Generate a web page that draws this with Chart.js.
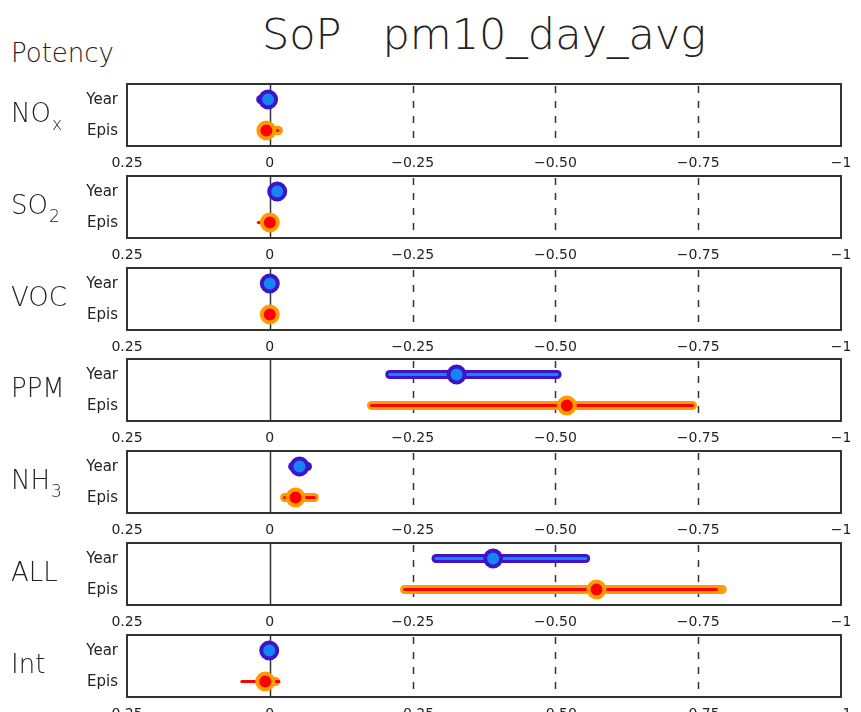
<!DOCTYPE html>
<html>
<head>
<meta charset="utf-8">
<script src="https://cdn.jsdelivr.net/npm/chart.js@4.4.1/dist/chart.umd.min.js"></script>
<style>
  body { margin:0; background:#fff; font-family:"DejaVu Sans", sans-serif; color:#222; }
  #wrap { position:relative; width:861px; height:712px; overflow:hidden; }
  #wrap canvas { position:absolute; left:0; }
  .title { position:absolute; left:127px; width:714px; top:9px; text-align:center; font-size:43px; font-weight:300; white-space:pre; }
  .potency { position:absolute; left:11px; top:38px; font-size:26px; font-weight:300; }
  .plab { position:absolute; left:11px; font-size:26px; font-weight:300; line-height:30px; }
  .plab sub { font-size:17px; vertical-align:-8px; margin-left:1px; }
  .rlab { position:absolute; right:743px; font-size:15px; line-height:18px; }
</style>
</head>
<body>
<div id="wrap">
  <div class="title">SoP   pm10_day_avg</div>
  <div class="potency">Potency</div>
</div>
<script>
// potency panels, x axis runs 0.25 -> -1
var categories = ['NOx', 'SO2', 'VOC', 'PPM', 'NH3', 'ALL', 'Int'];
var catLabels  = ['NO<sub>x</sub>', 'SO<sub>2</sub>', 'VOC', 'PPM', 'NH<sub>3</sub>', 'ALL', 'Int'];
var rows = ['Year', 'Epis'];

var yearPoint = [0.003, -0.013, 0.0, -0.327, -0.052, -0.391, 0.001];
var yearRange = [[0.016, 0.0], [-0.008, -0.016], [0.002, -0.002], [-0.210, -0.503], [-0.040, -0.066], [-0.291, -0.553], [0.003, -0.001]];
var yearInner = [[0.012, 0.0], [-0.008, -0.016], [0.002, -0.002], [-0.210, -0.503], [-0.040, -0.066], [-0.291, -0.553], [0.003, -0.001]];

var episPoint = [0.006, 0.0, 0.0, -0.520, -0.045, -0.572, 0.008];
var episRange = [[0.012, -0.015], [0.010, -0.006], [0.002, -0.002], [-0.178, -0.740], [-0.026, -0.078], [-0.236, -0.792], [0.006, -0.010]];
var episInner = [[0.017, -0.014], [0.020, -0.004], [0.002, -0.002], [-0.178, -0.740], [-0.026, -0.078], [-0.236, -0.782], [0.049, -0.016]];

var tickValues = [0.25, 0, -0.25, -0.5, -0.75, -1];
var tickLabels = ['0.25', '0', '\u22120.25', '\u22120.50', '\u22120.75', '\u22121'];
var dashedAt = [-0.25, -0.5, -0.75];

var blueDark = '#3f14c8', blueLight = '#1485f5', orange = '#ff9b00', red = '#ff0000';

var framePlugin = {
  id: 'frame',
  beforeDatasetsDraw: function(chart) {
    var c = chart.ctx, a = chart.chartArea, xs = chart.scales.x;
    c.save();
    c.strokeStyle = '#333';
    c.lineWidth = 1.5;
    var x0 = Math.round(xs.getPixelForValue(0)) + 0.5;
    c.beginPath(); c.moveTo(x0, a.top); c.lineTo(x0, a.bottom); c.stroke();
    c.setLineDash([7, 8]);
    dashedAt.forEach(function(v) {
      var x = Math.round(xs.getPixelForValue(v)) + 0.5;
      c.beginPath(); c.moveTo(x, a.top + 2); c.lineTo(x, a.bottom); c.stroke();
    });
    c.setLineDash([]);
    c.lineWidth = 2;
    c.strokeRect(a.left, a.top, a.right - a.left, a.bottom - a.top);
    c.restore();
  }
};

function seg(r, row) { return [{x: r[0], y: row}, {x: r[1], y: row}]; }

var wrap = document.getElementById('wrap');
categories.forEach(function(cat, i) {
  var top = 84 + i * 91.8;
  var cv = document.createElement('canvas');
  cv.width = 861; cv.height = 90;
  cv.style.top = (top - 6) + 'px';
  wrap.appendChild(cv);

  var lab = document.createElement('div');
  lab.className = 'plab';
  lab.innerHTML = catLabels[i];
  lab.style.top = (top + 14) + 'px';
  wrap.appendChild(lab);

  rows.forEach(function(r, k) {
    var d = document.createElement('div');
    d.className = 'rlab';
    d.textContent = r;
    d.style.top = (top + (k === 0 ? 6 : 37)) + 'px';
    wrap.appendChild(d);
  });

  new Chart(cv.getContext('2d'), {
    type: 'line',
    data: {
      datasets: [
        { data: [{x: yearPoint[i], y: 'Year'}], showLine: false, pointRadius: 8, pointBorderWidth: 4,
          pointBackgroundColor: blueLight, pointBorderColor: blueDark, order: 0 },
        { data: [{x: episPoint[i], y: 'Epis'}], showLine: false, pointRadius: 8, pointBorderWidth: 4,
          pointBackgroundColor: red, pointBorderColor: orange, order: 0 },
        { data: seg(yearInner[i], 'Year'), borderColor: blueLight, borderWidth: 3, borderCapStyle: 'round', pointRadius: 0, order: 1 },
        { data: seg(episInner[i], 'Epis'), borderColor: red, borderWidth: 3, borderCapStyle: 'round', pointRadius: 0, order: 1 },
        { data: seg(yearRange[i], 'Year'), borderColor: blueDark, borderWidth: 9, borderCapStyle: 'round', pointRadius: 0, order: 2 },
        { data: seg(episRange[i], 'Epis'), borderColor: orange, borderWidth: 9, borderCapStyle: 'round', pointRadius: 0, order: 2 }
      ]
    },
    options: {
      responsive: false,
      animation: false,
      layout: { autoPadding: false, padding: { left: 127, right: 20, top: 6, bottom: 0 } },
      plugins: { legend: { display: false }, tooltip: { enabled: false } },
      scales: {
        x: {
          type: 'linear', min: -1, max: 0.25, reverse: true,
          afterBuildTicks: function(s) { s.ticks = tickValues.map(function(v) { return {value: v}; }); },
          afterFit: function(s) { s.height = 22; },
          grid: { display: false },
          border: { display: false },
          ticks: {
            autoSkip: false, maxRotation: 0, padding: 1, color: '#222',
            font: { family: 'DejaVu Sans', size: 14 },
            callback: function(v) {
              for (var k = 0; k < tickValues.length; k++) if (Math.abs(tickValues[k] - v) < 1e-9) return tickLabels[k];
              return '';
            }
          }
        },
        y: { type: 'category', labels: rows, offset: true, display: false }
      }
    },
    plugins: [framePlugin]
  });
});
</script>
</body>
</html>
